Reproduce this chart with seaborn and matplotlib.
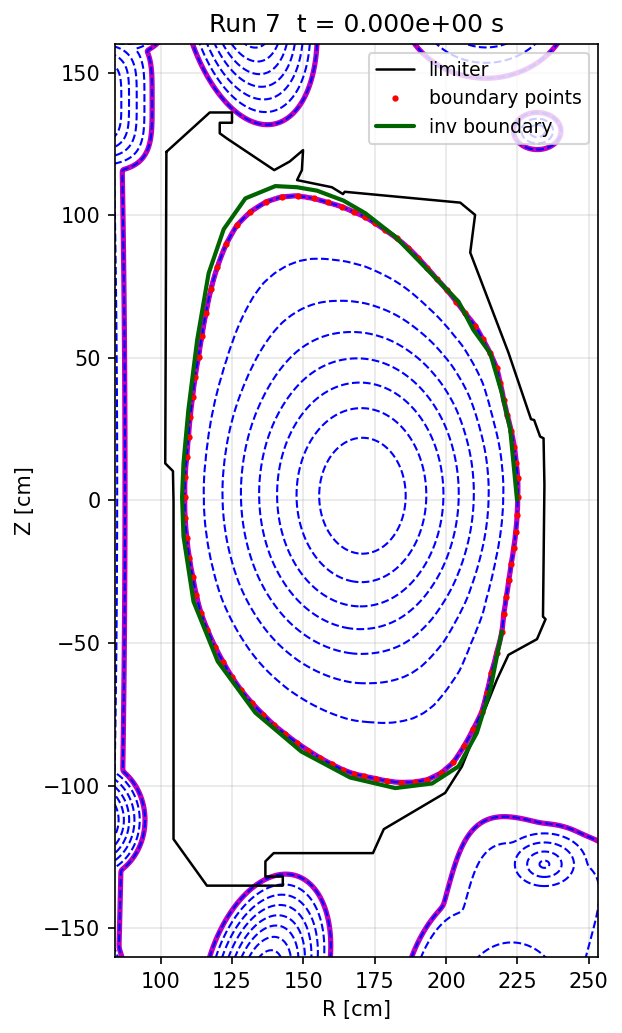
import numpy as np
import matplotlib
matplotlib.use("Agg")
import matplotlib.pyplot as plt
import seaborn as sns

# limiter outline [cm]
LIM_R = [102.0, 117.2, 125.0, 125.0, 120.7, 120.7, 123.2, 139.8, 145.2, 149.9, 149.5, 147.8,
         160.0, 163.9, 164.5, 205.0, 210.2, 208.5, 221.9, 229.8, 230.9, 233.0, 234.2, 234.5,
         234.0, 234.9, 231.9, 221.9, 217.8, 205.6, 199.7, 178.2, 174.4, 139.6, 136.7, 136.7,
         142.8, 142.8, 116.2, 104.5, 104.5, 104.3, 101.6, 102.0]
LIM_Z = [122.2, 136.0, 136.0, 132.4, 132.4, 128.7, 126.9, 115.8, 118.8, 122.8, 115.8, 112.3,
         109.8, 107.4, 108.2, 104.4, 100.1, 86.9, 51.8, 28.5, 28.2, 22.4, 21.8, 5.5,
         -40.7, -41.6, -48.6, -54.1, -62.9, -93.2, -102.5, -115.2, -123.6, -123.6, -126.5, -131.8,
         -131.8, -135.0, -135.0, -118.7, -0.4, 10.3, 13.0, 122.2]

# plasma boundary points
BND_R = [225.1, 225.1, 224.6, 223.9, 222.8, 221.4, 220.2, 219.0, 217.8, 215.5, 212.9, 210.2,
         206.7, 203.6, 200.3, 196.8, 193.5, 190.2, 186.7, 182.8, 178.7, 175.2, 171.5, 167.6,
         163.5, 158.5, 153.6, 148.1, 142.5, 136.9, 131.4, 126.7, 122.9, 119.9, 117.6, 115.9,
         114.5, 113.3, 112.1, 111.2, 110.4, 109.8, 109.2, 108.6, 108.5, 108.6, 109.2, 110.1,
         111.3, 112.5, 114.1, 116.4, 119.1, 121.9, 125.0, 128.3, 132.0, 136.0, 139.8, 143.7,
         147.8, 151.8, 155.8, 160.0, 163.8, 167.6, 171.4, 175.3, 179.5, 184.2, 189.0, 193.5,
         198.2, 202.6, 206.3, 209.6, 212.6, 214.3, 215.9, 217.8, 219.6, 220.2, 221.1, 222.0,
         222.8, 223.7, 224.4, 224.9]
BND_Z = [1.3, 7.8, 13.1, 18.9, 24.5, 30.0, 35.2, 41.1, 46.3, 51.6, 56.5, 61.3,
         65.6, 69.7, 73.8, 77.6, 81.4, 85.1, 88.6, 91.9, 94.8, 97.2, 99.5, 101.2,
         103.0, 104.5, 105.9, 106.8, 106.5, 104.7, 101.2, 96.5, 89.8, 82.0, 74.0, 65.8,
         57.8, 50.4, 43.2, 36.2, 29.4, 22.4, 15.4, 8.4, 1.1, -6.2, -13.2, -20.2,
         -26.9, -33.1, -39.3, -45.3, -51.3, -56.6, -61.9, -66.6, -71.0, -75.1, -78.8, -81.9,
         -85.0, -87.7, -90.2, -92.5, -94.4, -95.8, -96.7, -97.5, -98.4, -98.9, -98.7, -97.9,
         -95.6, -91.8, -86.2, -80.1, -74.0, -67.5, -60.4, -53.3, -46.0, -39.8, -33.9, -27.8,
         -22.3, -16.7, -11.1, -5.0]

# reconstructed ("inverse") boundary
INV_R = [219.6, 215.5, 210.8, 204.4, 195.1, 182.2, 166.4, 149.3, 133.2, 120.0, 111.5, 108.0,
         107.5, 108.0, 109.7, 112.8, 116.8, 122.1, 129.7, 140.2, 147.8, 154.8, 164.1, 171.7,
         182.2, 204.4, 209.6, 215.5, 219.6, 222.5, 224.9]
INV_Z = [-45.9, -66.4, -81.5, -93.2, -99.2, -100.8, -97.1, -88.0, -74.4, -56.4, -35.4, -12.6,
         1.3, 13.1, 31.7, 56.3, 79.6, 95.1, 105.9, 110.2, 109.8, 108.6, 105.1, 100.7,
         92.5, 69.7, 59.8, 51.6, 37.6, 25.1, 0.2]

# flux surface levels (normalised, 1 = boundary)
LEVELS = [0.26, 0.39, 0.5, 0.6, 0.7, 0.8, 0.9, 1.0]

# magnetic axis and core surface shape
R_AXIS, Z_AXIS = 171.0, 1.5
CORE_A, CORE_KAPPA = 58.3, 1.34

# coil regions outside the plasma (centre, half axes of psi=1 surface, centre value, ...)
WELL_R    = [130.5,  70.0,  88.0, 60.0,   76.0,   76.0,  137.0, 214.0, 232.0,  234.5,  228.0,  200.0,  223.0]
WELL_Z    = [176.0, 140.0, 172.0,  5.0, -112.0, -172.0, -167.0, 175.0, 129.5, -127.5, -150.0, -165.0, -176.0]
WELL_AR   = [ 23.0,  27.0,  16.0, 27.5,   18.5,   12.0,   21.0,  30.0,   8.3,   19.0,   30.0,   13.0,   30.0]
WELL_AZ   = [ 45.0,  25.0,  16.0, 420.0,  21.0,   24.0,   37.0,  27.0,   6.5,   14.0,   37.0,   28.0,   35.0]
WELL_PSI  = [  0.0,   0.0,   0.2,  0.0,    0.0,    0.0,    0.0,   0.5,   0.7,   0.56,   0.82,   0.82,   0.5]
WELL_TILT = [ 12.0,   0.0,   0.0,  0.0,    0.0,    0.0,  -16.0,   0.0,   0.0,    0.0,  -15.0,  -20.0,    0.0]
WELL_POW  = [  1.0,   1.0,   1.0,  1.0,    1.0,    1.0,    1.0,   1.0,   1.0,    1.0,    3.0,    3.0,    1.0]
WELL_N    = [  2.0,   4.0,   2.0,  2.0,    2.0,    2.0,    2.0,   2.0,   2.0,    2.0,    4.0,    2.0,    2.0]

# ---- build psi on a grid
RR, ZZ = np.meshgrid(np.linspace(78, 260, 521), np.linspace(-168, 168, 961))

br = np.array(BND_R)
bz = np.array(BND_Z)
bc_r = 0.5 * (br.min() + br.max())
bc_z = 0.5 * (bz.min() + bz.max())
b_ang = np.arctan2(bz - bc_z, br - bc_r)
b_rad = np.hypot(bz - bc_z, br - bc_r)
o = np.argsort(b_ang)
b_ang, b_rad = b_ang[o], b_rad[o]


def bnd_radius(th):
    return np.interp(th, b_ang, b_rad, period=2 * np.pi)


def core_radius(th):
    a = CORE_A
    b = CORE_A * CORE_KAPPA
    return a * b / np.sqrt((b * np.cos(th)) ** 2 + (a * np.sin(th)) ** 2)


lo = np.zeros_like(RR)
hi = np.full_like(RR, 4.0)
for _ in range(40):
    mid = 0.5 * (lo + hi)
    q = np.minimum(mid, 1.0)
    cr = R_AXIS + (bc_r - R_AXIS) * q ** 2
    cz = Z_AXIS + (bc_z - Z_AXIS) * q ** 2
    th = np.arctan2(ZZ - cz, RR - cr)
    w = q ** 6
    s = (1 - w) * core_radius(th) + w * bnd_radius(th)
    inside = np.hypot(RR - cr, ZZ - cz) < mid * s
    hi = np.where(inside, mid, hi)
    lo = np.where(inside, lo, mid)
rho = 0.5 * (lo + hi)

fields = [rho]
for i in range(len(WELL_R)):
    t = np.deg2rad(WELL_TILT[i])
    dr = RR - WELL_R[i]
    dz = ZZ - WELL_Z[i]
    u = dr * np.cos(t) + dz * np.sin(t)
    v = -dr * np.sin(t) + dz * np.cos(t)
    n = WELL_N[i]
    d = (np.abs(u / WELL_AR[i]) ** n + np.abs(v / WELL_AZ[i]) ** n) ** (1 / n)
    fields.append(WELL_PSI[i] + (1 - WELL_PSI[i]) * d ** WELL_POW[i])
fields = np.array(fields)
k = 0.01
m = fields.min(axis=0)
psi = m - k * np.log(np.exp(-(fields - m) / k).sum(axis=0))

# ---- plot
sns.set_style("ticks")
plt.rcParams['font.family'] = ['DejaVu Sans']
plt.rcParams.update({'text.color': 'k', 'axes.labelcolor': 'k', 'xtick.color': 'k',
                     'ytick.color': 'k', 'axes.edgecolor': 'k'})
fig = plt.figure(figsize=(622 / 150, 1033 / 150), dpi=150)
ax = fig.add_axes([0.1844, 0.0736, 0.7781, 0.8838])

ax.contour(RR, ZZ, psi, levels=[1.0], colors='m', linewidths=2.5)
ax.contour(RR, ZZ, psi, levels=LEVELS, colors='b', linestyles='--', linewidths=1.0)

sns.lineplot(x=LIM_R, y=LIM_Z, sort=False, estimator=None, color='k', lw=1.2,
             label='limiter', ax=ax)
ax.plot(BND_R, BND_Z, 'r.', ms=4, label='boundary points')
sns.lineplot(x=INV_R, y=INV_Z, sort=False, estimator=None, color='darkgreen', lw=2,
             label='inv boundary', ax=ax)

ax.set_xlim(84, 253.4)
ax.set_ylim(-160, 160)
ax.set_aspect('equal')
ax.set_xticks([100, 125, 150, 175, 200, 225, 250])
ax.grid(True, color='#b0b0b0', alpha=0.3)
ax.set_xlabel('R [cm]')
ax.set_ylabel('Z [cm]')
ax.set_title('Run 7  t = 0.000e+00 s')
ax.legend(loc='upper right', fontsize=9)

fig.savefig('out.png', dpi=150)
